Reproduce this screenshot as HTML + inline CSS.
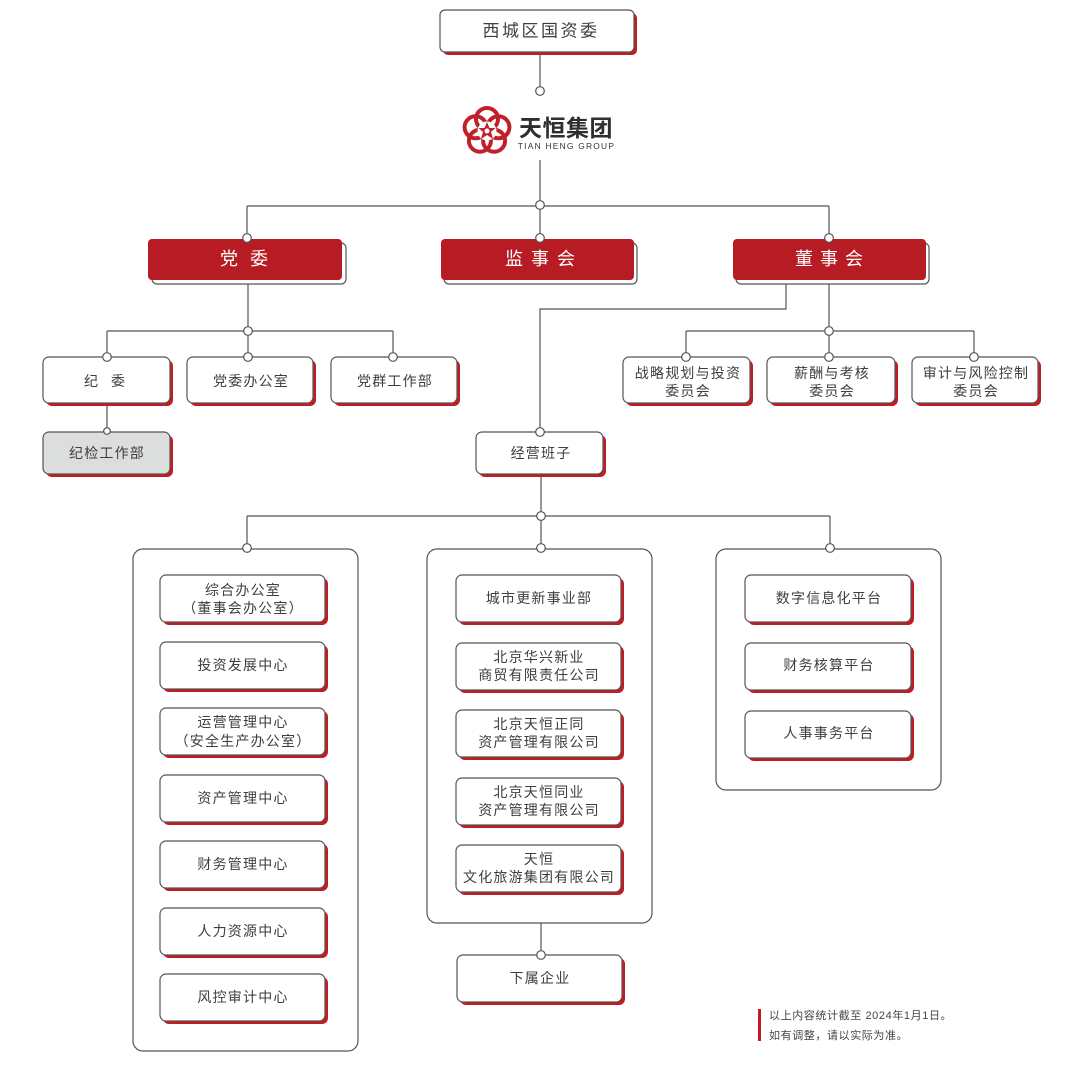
<!DOCTYPE html>
<html><head><meta charset="utf-8">
<style>
html,body{margin:0;padding:0;background:#fff;}
svg{display:block;}
text{font-family:"Liberation Sans","Noto Sans CJK SC",sans-serif;}
.t{font-size:14px;fill:#3e3e3e;letter-spacing:1.2px;text-anchor:middle;dominant-baseline:central;}
.w{font-size:18px;fill:#fff;text-anchor:middle;dominant-baseline:central;}
.ln{stroke:#555;stroke-width:1.2;fill:none;}
.c{fill:#fff;stroke:#555;stroke-width:1.2;}
.bx{fill:#fff;stroke:#555;stroke-width:1.2;}
.sh{fill:#c41a22;}
.rd{fill:#b71c24;}
</style></head>
<body>
<svg width="1080" height="1069" viewBox="0 0 1080 1069" xmlns="http://www.w3.org/2000/svg">
<!-- containers -->
<rect x="133" y="549" width="225" height="502" rx="10" class="bx"/>
<rect x="427" y="549" width="225" height="374" rx="10" class="bx"/>
<rect x="716" y="549" width="225" height="241" rx="10" class="bx"/>

<!-- connectors -->
<path class="ln" d="M540 52V91 M540 160V206 M247 206H829 M247 206V238 M540 206V238 M829 206V238
M248 284V331 M107 331H393 M107 331V357 M248 331V357 M393 331V357
M107 403V431
M786 284V309H540V431
M829 284V331 M686 331H974 M686 331V357 M829 331V357 M974 331V357
M541 474V516 M247 516H830 M247 516V548 M541 516V548 M830 516V548
M541 923V955"/>

<!-- top box -->
<rect x="443" y="13" width="194" height="42" rx="5" class="sh"/>
<rect x="440" y="10" width="194" height="42" rx="5" class="bx"/>
<text class="t" x="541" y="31" style="font-size:17px;letter-spacing:2.5px">西城区国资委</text>

<!-- logo -->
<g transform="translate(487,131)">
  <g fill="none" stroke="#c0202a" stroke-width="4">
    <circle cx="0" cy="-12" r="11"/>
    <circle cx="11.4" cy="-3.7" r="11"/>
    <circle cx="7.1" cy="9.7" r="11"/>
    <circle cx="-7.1" cy="9.7" r="11"/>
    <circle cx="-11.4" cy="-3.7" r="11"/>
  </g>
  <circle cx="0" cy="0" r="9.5" fill="#fff"/>
  <polygon fill="#c0202a" points="0,-9 2.5,-3 8.5,-3 4,1 6,8 0,4 -6,8 -4,1 -8.5,-3 -2.5,-3"/>
  <circle cx="0" cy="0" r="2.5" fill="#fff"/>
</g>
<text x="566" y="128" style="font-size:23px;font-weight:bold;fill:#2e2e2e;text-anchor:middle;dominant-baseline:central;letter-spacing:0.5px">天恒集团</text>
<text x="566.5" y="146" style="font-size:8.4px;fill:#333;text-anchor:middle;dominant-baseline:central;letter-spacing:1.25px">TIAN HENG GROUP</text>

<!-- red boxes -->
<rect x="152" y="243" width="194" height="41" rx="5" class="bx"/>
<rect x="148" y="239" width="194" height="41" rx="4" class="rd"/>
<text class="w" x="229 259" y="259">党委</text>

<rect x="444" y="243" width="193" height="41" rx="5" class="bx"/>
<rect x="441" y="239" width="193" height="41" rx="4" class="rd"/>
<text class="w" x="514 540 566" y="259">监事会</text>

<rect x="736" y="243" width="193" height="41" rx="5" class="bx"/>
<rect x="733" y="239" width="193" height="41" rx="4" class="rd"/>
<text class="w" x="804 829 854" y="259">董事会</text>

<!-- party row -->
<rect x="46" y="360" width="127" height="46" rx="6" class="sh"/>
<rect x="43" y="357" width="127" height="46" rx="6" class="bx"/>
<text class="t" x="91 118" y="381" style="letter-spacing:0">纪委</text>

<rect x="190" y="360" width="126" height="46" rx="6" class="sh"/>
<rect x="187" y="357" width="126" height="46" rx="6" class="bx"/>
<text class="t" x="251" y="381">党委办公室</text>

<rect x="334" y="360" width="126" height="46" rx="6" class="sh"/>
<rect x="331" y="357" width="126" height="46" rx="6" class="bx"/>
<text class="t" x="395" y="381">党群工作部</text>

<rect x="46" y="435" width="127" height="42" rx="6" class="sh"/>
<rect x="43" y="432" width="127" height="42" rx="6" style="fill:#dcdddd;stroke:#555;stroke-width:1.2"/>
<text class="t" x="107" y="453">纪检工作部</text>

<!-- committees -->
<rect x="626" y="360" width="127" height="46" rx="6" class="sh"/>
<rect x="623" y="357" width="127" height="46" rx="6" class="bx"/>
<text class="t" x="688" y="373">战略规划与投资</text>
<text class="t" x="688" y="391">委员会</text>

<rect x="770" y="360" width="128" height="46" rx="6" class="sh"/>
<rect x="767" y="357" width="128" height="46" rx="6" class="bx"/>
<text class="t" x="832" y="373">薪酬与考核</text>
<text class="t" x="832" y="391">委员会</text>

<rect x="915" y="360" width="126" height="46" rx="6" class="sh"/>
<rect x="912" y="357" width="126" height="46" rx="6" class="bx"/>
<text class="t" x="976" y="373">审计与风险控制</text>
<text class="t" x="976" y="391">委员会</text>

<!-- 经营班子 -->
<rect x="479" y="435" width="127" height="42" rx="6" class="sh"/>
<rect x="476" y="432" width="127" height="42" rx="6" class="bx"/>
<text class="t" x="541" y="453">经营班子</text>

<!-- left column -->
<g>
<rect x="163" y="578" width="165" height="47" rx="6" class="sh"/><rect x="160" y="575" width="165" height="47" rx="6" class="bx"/>
<text class="t" x="243" y="590">综合办公室</text><text class="t" x="243" y="608">（董事会办公室）</text>

<rect x="163" y="645" width="165" height="47" rx="6" class="sh"/><rect x="160" y="642" width="165" height="47" rx="6" class="bx"/>
<text class="t" x="243" y="665">投资发展中心</text>

<rect x="163" y="711" width="165" height="47" rx="6" class="sh"/><rect x="160" y="708" width="165" height="47" rx="6" class="bx"/>
<text class="t" x="243" y="722">运营管理中心</text><text class="t" x="243" y="741">（安全生产办公室）</text>

<rect x="163" y="778" width="165" height="47" rx="6" class="sh"/><rect x="160" y="775" width="165" height="47" rx="6" class="bx"/>
<text class="t" x="243" y="798">资产管理中心</text>

<rect x="163" y="844" width="165" height="47" rx="6" class="sh"/><rect x="160" y="841" width="165" height="47" rx="6" class="bx"/>
<text class="t" x="243" y="864">财务管理中心</text>

<rect x="163" y="911" width="165" height="47" rx="6" class="sh"/><rect x="160" y="908" width="165" height="47" rx="6" class="bx"/>
<text class="t" x="243" y="931">人力资源中心</text>

<rect x="163" y="977" width="165" height="47" rx="6" class="sh"/><rect x="160" y="974" width="165" height="47" rx="6" class="bx"/>
<text class="t" x="243" y="997">风控审计中心</text>
</g>

<!-- middle column -->
<g>
<rect x="459" y="578" width="165" height="47" rx="6" class="sh"/><rect x="456" y="575" width="165" height="47" rx="6" class="bx"/>
<text class="t" x="539" y="598">城市更新事业部</text>

<rect x="459" y="646" width="165" height="47" rx="6" class="sh"/><rect x="456" y="643" width="165" height="47" rx="6" class="bx"/>
<text class="t" x="539" y="657">北京华兴新业</text><text class="t" x="539" y="675">商贸有限责任公司</text>

<rect x="459" y="713" width="165" height="47" rx="6" class="sh"/><rect x="456" y="710" width="165" height="47" rx="6" class="bx"/>
<text class="t" x="539" y="724">北京天恒正同</text><text class="t" x="539" y="742">资产管理有限公司</text>

<rect x="459" y="781" width="165" height="47" rx="6" class="sh"/><rect x="456" y="778" width="165" height="47" rx="6" class="bx"/>
<text class="t" x="539" y="792">北京天恒同业</text><text class="t" x="539" y="810">资产管理有限公司</text>

<rect x="459" y="848" width="165" height="47" rx="6" class="sh"/><rect x="456" y="845" width="165" height="47" rx="6" class="bx"/>
<text class="t" x="539" y="859">天恒</text><text class="t" x="539" y="877">文化旅游集团有限公司</text>

<rect x="460" y="958" width="165" height="47" rx="6" class="sh"/><rect x="457" y="955" width="165" height="47" rx="6" class="bx"/>
<text class="t" x="540" y="978">下属企业</text>
</g>

<!-- right column -->
<g>
<rect x="748" y="578" width="166" height="47" rx="6" class="sh"/><rect x="745" y="575" width="166" height="47" rx="6" class="bx"/>
<text class="t" x="829" y="598">数字信息化平台</text>

<rect x="748" y="646" width="166" height="47" rx="6" class="sh"/><rect x="745" y="643" width="166" height="47" rx="6" class="bx"/>
<text class="t" x="829" y="665">财务核算平台</text>

<rect x="748" y="714" width="166" height="47" rx="6" class="sh"/><rect x="745" y="711" width="166" height="47" rx="6" class="bx"/>
<text class="t" x="829" y="733">人事事务平台</text>
</g>

<!-- circles -->
<g class="c">
<circle cx="540" cy="91" r="4.3"/>
<circle cx="540" cy="205" r="4.3"/>
<circle cx="247" cy="238" r="4.3"/>
<circle cx="540" cy="238" r="4.3"/>
<circle cx="829" cy="238" r="4.3"/>
<circle cx="248" cy="331" r="4.3"/>
<circle cx="107" cy="357" r="4.3"/>
<circle cx="248" cy="357" r="4.3"/>
<circle cx="393" cy="357" r="4.3"/>
<circle cx="107" cy="431" r="3.3"/>
<circle cx="829" cy="331" r="4.3"/>
<circle cx="686" cy="357" r="4.3"/>
<circle cx="829" cy="357" r="4.3"/>
<circle cx="974" cy="357" r="4.3"/>
<circle cx="540" cy="432" r="4.3"/>
<circle cx="541" cy="516" r="4.3"/>
<circle cx="247" cy="548" r="4.3"/>
<circle cx="541" cy="548" r="4.3"/>
<circle cx="830" cy="548" r="4.3"/>
<circle cx="541" cy="955" r="4.3"/>
</g>

<!-- footnote -->
<rect x="758" y="1009" width="3" height="32" fill="#c41a22"/>
<text x="769" y="1016" style="font-size:11px;fill:#444;dominant-baseline:central;letter-spacing:0.6px">以上内容统计截至 2024年1月1日。</text>
<text x="769" y="1036" style="font-size:11px;fill:#444;dominant-baseline:central;letter-spacing:0.6px">如有调整，请以实际为准。</text>
</svg>
</body></html>
